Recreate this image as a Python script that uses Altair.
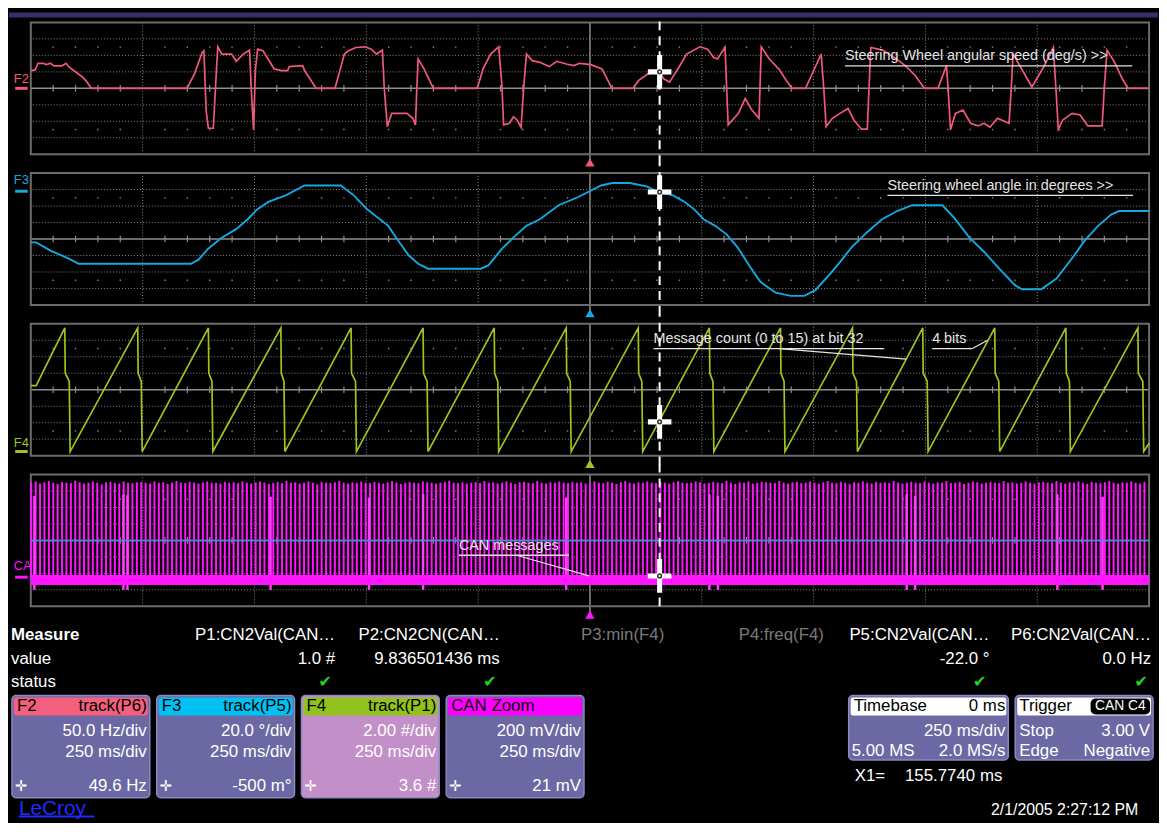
import altair as alt
import pandas as pd

# ---------------------------------------------------------------- data
# F2: steering wheel angular speed, (time ms, value in Hz-units, 50/div)
F2_POINTS = [
    (-1250, 54), (-1240, 56), (-1234, 76), (-1223, 76), (-1215, 72), (-1206, 76), (-1198, 68), (-1181, 68),
    (-1171, 76), (-1164, 64), (-1151, 51), (-1134, 34), (-1126, 22), (-1115, 0), (-901, 0), (-884, 44),
    (-867, 109), (-863, 114), (-858, -68), (-853, -121), (-842, -121), (-839, -46), (-835, 54), (-832, 126),
    (-823, 104), (-801, 104), (-791, 82), (-775, 104), (-761, 116), (-757, -6), (-752, -126), (-748, 54),
    (-743, 119), (-731, 114), (-706, 59), (-689, 54), (-676, 54), (-672, 66), (-642, 69), (-638, 54),
    (-612, 0), (-570, 0), (-562, 39), (-549, 104), (-540, 114), (-523, 124), (-502, 126), (-489, 119),
    (-477, 104), (-464, 116), (-460, 4), (-453, -116), (-443, -76), (-409, -76), (-396, -91), (-390, -111),
    (-387, 4), (-384, 89), (-371, 59), (-350, 0), (-252, 0), (-239, 59), (-222, 104), (-204, 126),
    (-197, 14), (-193, -111), (-180, -106), (-171, -86), (-163, -96), (-154, -118), (-148, 4), (-142, 104),
    (-129, 84), (-112, 79), (-91, 66), (-74, 82), (-53, 74), (-36, 69), (-23, 76), (2, 72),
    (27, 59), (49, 0), (96, 0), (109, 24), (130, 44), (152, 54), (165, 29), (178, 19),
    (199, 64), (216, 104), (246, 126), (263, 119), (276, 94), (285, 89), (302, 124), (309, -111),
    (332, -76), (347, -31), (362, -66), (378, -91), (383, 126), (401, 89), (422, 59), (439, 24),
    (452, 0), (482, 0), (495, 39), (517, 104), (523, -6), (528, -116), (542, -91), (559, -76),
    (577, -61), (590, -96), (607, -124), (620, -124), (624, 4), (628, 124), (654, 116), (680, 94),
    (705, 69), (727, 39), (748, 0), (778, 0), (793, 54), (797, 69), (801, -6), (806, -126),
    (817, -76), (834, -66), (851, -106), (868, -114), (881, -106), (894, -118), (911, -91), (937, -106),
    (942, 4), (946, 104), (963, 64), (988, 4), (1014, 64), (1036, 124), (1042, -6), (1047, -124),
    (1057, -96), (1078, -76), (1096, -81), (1113, -114), (1145, -114), (1150, 4), (1156, 116), (1173, 79),
    (1190, 29), (1203, 0), (1250, 0),
]

# F3: steering wheel angle, (time ms, degrees, 20/div)
F3_POINTS = [
    (-1250, -4), (-1238, -4), (-1206, -14), (-1164, -24), (-1143, -30), (-892, -30), (-875, -25), (-854, -12),
    (-825, 1), (-791, 12), (-765, 24), (-744, 36), (-719, 45), (-680, 53), (-638, 65), (-557, 65),
    (-528, 53), (-498, 36), (-451, 16), (-426, -4), (-405, -20), (-384, -30), (-362, -36), (-244, -36),
    (-227, -32), (-197, -12), (-171, 2), (-142, 16), (-112, 24), (-70, 41), (-26, 51), (25, 65),
    (50, 68), (89, 68), (127, 64), (152, 57), (186, 53), (212, 45), (233, 36), (254, 24),
    (280, 16), (305, 6), (330, -10), (356, -32), (381, -52), (415, -65), (449, -69), (479, -69),
    (504, -62), (534, -44), (559, -28), (585, -10), (619, 8), (653, 24), (687, 34), (720, 41),
    (788, 41), (814, 26), (848, 2), (882, -16), (915, -36), (950, -56), (966, -61), (1009, -61),
    (1043, -48), (1077, -24), (1106, -2), (1136, 16), (1166, 30), (1183, 34), (1250, 34),
]

# F4: message counter (0..15) decoded at bit 32 - start, wrap-around instants, end
F4_START = [(-1250, 8), (-1238, 8)]
F4_WRAP_TOP_MS = [-1174, -1011, -853, -691, -534, -373, -214, -53, 108, 267, 426, 587, 744, 905, 1064, 1225]
F4_WRAP_BOTTOM_MS = [-1162, -1001, -843, -682, -522, -362, -204, -42, 118, 277, 436, 598, 756, 916, 1074, 1238]
F4_END = [(1250, 1)]

# CAN zoom: message bursts (one per message, spacing = measured P2 value)
CAN_FIRST_MS = -1249
CAN_PERIOD_MS = 9.836501436
CAN_PEAK_MV = [
    700, 715, 690, 705, 720, 700, 685, 710, 700, 695, 725, 705, 690, 700, 715, 700, 680, 705, 710, 700, 690, 715, 700, 695, 705,
    710, 700, 690, 715, 700, 705, 685, 700, 720, 700, 695, 710, 700, 690, 705, 715, 700, 700, 690, 710, 700, 705, 695, 715, 700,
    690, 705, 715, 700, 685, 700, 710, 695, 720, 700, 705, 690, 700, 715, 700, 680, 710, 700, 695, 705, 720, 700, 690, 705, 700,
    715, 700, 695, 710, 700, 690, 705, 720, 700, 685, 700, 710, 700, 695, 715, 705, 700, 690, 700, 710, 725, 700, 695, 705, 690,
    700, 710, 695, 720, 700, 705, 690, 700, 715, 700, 685, 705, 710, 700, 695, 720, 700, 690, 705, 700, 715, 700, 695, 710, 700,
    705, 690, 700, 715, 700, 695, 710, 700, 685, 705, 720, 700, 690, 705, 700, 715, 700, 695, 710, 700, 690, 705, 720, 700, 695,
    700, 715, 705, 690, 700, 710, 700, 695, 720, 700, 685, 705, 700, 715, 690, 700, 710, 705, 700, 695, 720, 700, 690, 705, 710,
    695, 700, 715, 700, 690, 705, 720, 700, 695, 710, 700, 685, 705, 700, 715, 700, 690, 710, 700, 705, 695, 720, 700, 690, 700,
    710, 700, 695, 715, 700, 690, 705, 700, 720, 695, 700, 710, 685, 700, 715, 705, 690, 700, 710, 700, 695, 720, 700, 705, 690,
    700, 715, 700, 690, 705, 710, 700, 695, 720, 700, 690, 705, 700, 715, 700, 685, 710, 700, 695, 705, 720, 700, 690, 705, 700,
    715, 700, 690, 710,
]
CAN_LONG_MS = [-1242, -1043, -1034, -714, -494, -373, -53, 267, 286, 708, 727, 1045, 1146]
CAN_LONG_TOP_MV = [540, 560, 550, 530, 520, 560, 520, 560, 540, 560, 540, 560, 530]
CAN_BAND_MV = (-540, -420)
CAN_BASE_MV = -480

CURSOR_MS = 155.774
CURSOR_VALUES = [50, 57, 3.6, -431]

ANNOTATIONS = [
    # panel, text, t, v_text, v_underline, t_end
    (0, "Steering Wheel angular speed (deg/s) >>", 570, 98, 68, 1212),
    (1, "Steering wheel angle in degrees >>", 665, 64, 53, 1214),
    (2, "Message count (0 to 15) at bit 32", 142, 13.6, 12.5, 658),
    (2, "4 bits", 765, 13.6, 12.5, 855),
    (3, "CAN messages", -293, -72, -180, -47),
]
LEADERS = [
    (2, 423, 12.5, 707, 11.2),
    (2, 855, 12.5, 889, 13.5),
    (3, -164, -180, -2, -431),
]

MEAS_LABELS = ["P1:CN2Val(CAN…", "P2:CN2CN(CAN…", "P3:min(F4)", "P4:freq(F4)", "P5:CN2Val(CAN…", "P6:CN2Val(CAN…"]
MEAS_VALUES = ["1.0 #", "9.836501436 ms", "", "", "-22.0 °", "0.0 Hz"]
MEAS_ACTIVE = [True, True, False, False, True, True]

TRACE_NAMES = ["F2", "F3", "F4", "CAN Zoom"]
TRACE_SOURCE = ["track(P6)", "track(P5)", "track(P1)", ""]
TRACE_VDIV = ["50.0 Hz/div", "20.0 °/div", "2.00 #/div", "200 mV/div"]
TRACE_HDIV = ["250 ms/div", "250 ms/div", "250 ms/div", "250 ms/div"]
TRACE_CURSOR = ["49.6 Hz", "-500 m°", "3.6 #", "21 mV"]
TIMEBASE = ["Timebase", "0 ms", "250 ms/div", "5.00 MS", "2.0 MS/s"]
TRIGGER = ["Trigger", "CAN C4", "Stop", "3.00 V", "Edge", "Negative"]
X1_TEXT = ["X1=", "155.7740 ms"]
DATE_TEXT = "2/1/2005 2:27:12 PM"
BRAND = "LeCroy"

# ---------------------------------------------------------------- style
UI_FONT = "Liberation Sans"
SYM_FONT = "DejaVu Sans"
FRAME = "#6c6c6c"
GRID = "#8a8a8a"
CENTER = "#8e8e8e"
ANN = "#e4e4e4"
TRACE_COLORS = ["#f0587c", "#14a9df", "#9dc61e", "#ff14ff"]
HEADER_COLORS = ["#f2607e", "#00c2f2", "#92c21e", "#ff00ff"]
BODY = "#6c68a4"
BODY_F4 = "#c28fc8"
EDGE = "#8c88c0"
CHECK = "#22d622"
CAN_CENTER = "#3d8fe0"

W, H = 1128, 133
T0, T1 = -1250, 1250
GRID_T = [-1000, -750, -500, -250, 250, 500, 750, 1000]
CROSS = "M-0.7,-0.15H0.7V0.15H-0.7Z M-0.15,-1H0.15V1H-0.15Z"

DOMAINS = [(-200, 200), (-80, 80), (-0.5, 15.5), (-800, 800)]
LABELS = [("F2", 29, 0), ("F3", 72, 58), ("F4", 1.0, 0), ("CA", -313, -446)]
CURSOR_EXT = [(0.2, 0.6), (0.6, 0.6), (0.6, 0.6), (0.6, 0.0)]  # (top, bottom) in divisions


def enc(xs, ys, t="t", v="v", t2=None, v2=None):
    e = dict(x=alt.X(f"{t}:Q", scale=xs, axis=None), y=alt.Y(f"{v}:Q", scale=ys, axis=None))
    if t2:
        e["x2"] = alt.X2(f"{t2}:Q")
    if v2:
        e["y2"] = alt.Y2(f"{v2}:Q")
    return e


def seg(xs, ys, t0, v0, t1, v1, **mk):
    df = pd.DataFrame({"t": [t0], "v": [v0], "t1": [t1], "v1": [v1]})
    return alt.Chart(df).mark_rule(**mk).encode(**enc(xs, ys, t2="t1", v2="v1"))


def graticule(xs, ys, lo, hi, center_color):
    div = (hi - lo) / 8.0
    mid = (hi + lo) / 2.0
    minor_t = [t for t in range(-1200, 1250, 50) if t % 250 != 0]
    layers = []
    hdf = pd.DataFrame({"v": [mid + k * div for k in (-3, -2, -1, 1, 2, 3)]})
    layers.append(alt.Chart(hdf).mark_rule(color=GRID, strokeWidth=1, strokeDash=[1, 2])
                  .encode(y=alt.Y("v:Q", scale=ys, axis=None)))
    vdf = pd.DataFrame({"t": GRID_T})
    layers.append(alt.Chart(vdf).mark_rule(color=GRID, strokeWidth=1, strokeDash=[1, 2])
                  .encode(x=alt.X("t:Q", scale=xs, axis=None)))
    ddf = pd.DataFrame({"t": minor_t * 2,
                        "v": [mid + 2.5 * div] * len(minor_t) + [mid - 2.5 * div] * len(minor_t)})
    layers.append(alt.Chart(ddf).mark_square(size=2, color=GRID, opacity=1).encode(**enc(xs, ys)))
    layers.append(alt.Chart(pd.DataFrame({"v": [mid]})).mark_rule(color=center_color, strokeWidth=1.5)
                  .encode(y=alt.Y("v:Q", scale=ys, axis=None)))
    layers.append(seg(xs, ys, 0, lo - 0.45 * div, 0, hi, color=CENTER, strokeWidth=1.5))
    tdf = pd.DataFrame({"t": minor_t, "v": [mid - 0.2 * div] * len(minor_t), "v1": [mid + 0.2 * div] * len(minor_t)})
    layers.append(alt.Chart(tdf).mark_rule(color=CENTER, strokeWidth=1.2).encode(**enc(xs, ys, v2="v1")))
    fdf = pd.DataFrame({"t": [T0], "t1": [T1], "v": [lo], "v1": [hi]})
    layers.append(alt.Chart(fdf).mark_rect(fillOpacity=0, stroke=FRAME, strokeWidth=2)
                  .encode(**enc(xs, ys, t2="t1", v2="v1")))
    return layers


def trace_line(xs, ys, points, color, width=1.7):
    df = pd.DataFrame(points, columns=["t", "v"])
    df["i"] = range(len(df))
    return alt.Chart(df).mark_line(color=color, strokeWidth=width).encode(order="i:Q", **enc(xs, ys))


def build_panel(k, trace_layers):
    lo, hi = DOMAINS[k]
    div = (hi - lo) / 8.0
    color = TRACE_COLORS[k]
    xs = alt.Scale(domain=[T0, T1], nice=False, zero=False)
    ys = alt.Scale(domain=[lo, hi], nice=False, zero=False)
    layers = graticule(xs, ys, lo, hi, CENTER)
    layers += trace_layers(xs, ys)
    for (p, text, t, vt, vu, tend) in ANNOTATIONS:
        if p != k:
            continue
        adf = pd.DataFrame({"t": [t], "v": [vt], "s": [text]})
        layers.append(alt.Chart(adf).mark_text(align="left", baseline="middle", fontSize=14.5, color=ANN,
                                               font=UI_FONT).encode(text="s:N", **enc(xs, ys)))
        layers.append(seg(xs, ys, t, vu, tend, vu, color=ANN, strokeWidth=1.3))
    for (p, ta, va, tb, vb) in LEADERS:
        if p == k:
            layers.append(seg(xs, ys, ta, va, tb, vb, color=ANN, strokeWidth=1.3))
    top_ext, bot_ext = CURSOR_EXT[k]
    layers.append(seg(xs, ys, CURSOR_MS, lo - bot_ext * div, CURSOR_MS, hi + top_ext * div,
                      color="#ffffff", strokeWidth=2, strokeDash=[9, 6]))
    cdf = pd.DataFrame({"t": [CURSOR_MS], "v": [CURSOR_VALUES[k]]})
    layers.append(alt.Chart(cdf).mark_point(shape=CROSS, filled=True, color="#ffffff", size=1156, opacity=1)
                  .encode(**enc(xs, ys)))
    layers.append(alt.Chart(cdf).mark_point(shape="circle", filled=False, color="#303030", size=14,
                                            strokeWidth=1.5, opacity=1).encode(**enc(xs, ys)))
    tri = pd.DataFrame({"t": [0], "v": [lo - 0.5 * div]})
    layers.append(alt.Chart(tri).mark_point(shape="triangle-up", filled=True, color=color, size=90, opacity=1)
                  .encode(**enc(xs, ys)))
    name, lv, mv = LABELS[k]
    ldf = pd.DataFrame({"t": [-1288], "v": [lv], "s": [name]})
    layers.append(alt.Chart(ldf).mark_text(align="left", baseline="middle", fontSize=13, color=color,
                                           font=UI_FONT).encode(text="s:N", **enc(xs, ys)))
    layers.append(seg(xs, ys, -1285, mv, -1257, mv, color=color, strokeWidth=3))
    if k == 0:
        bar = pd.DataFrame({"k": [0]})
        layers.insert(0, alt.Chart(bar).mark_rect(color="#3b2c6c").encode(
            x=alt.value(-22), x2=alt.value(1137), y=alt.value(-10), y2=alt.value(-5)))
    return alt.layer(*layers).properties(width=W, height=H)


def f2_layers(xs, ys):
    return [trace_line(xs, ys, F2_POINTS, TRACE_COLORS[0])]


def f3_layers(xs, ys):
    return [trace_line(xs, ys, F3_POINTS, TRACE_COLORS[1], 1.9)]


def f4_layers(xs, ys):
    pts = list(F4_START)
    for top, bottom in zip(F4_WRAP_TOP_MS, F4_WRAP_BOTTOM_MS):
        pts += [(top, 15), (top + 1, 9.5), (bottom - 2, 8.5), (bottom - 1, 4), (bottom, 0)]
    pts += F4_END
    return [trace_line(xs, ys, pts, TRACE_COLORS[2])]


def can_layers(xs, ys):
    n = len(CAN_PEAK_MV)
    sdf = pd.DataFrame({"t": [CAN_FIRST_MS + i * CAN_PERIOD_MS for i in range(n)],
                        "v": [CAN_BASE_MV] * n, "v1": CAN_PEAK_MV})
    spikes = alt.Chart(sdf).mark_rule(color=TRACE_COLORS[3], strokeWidth=2).encode(**enc(xs, ys, v2="v1"))
    ldf = pd.DataFrame({"t": CAN_LONG_MS, "v": [-600] * len(CAN_LONG_MS), "v1": CAN_LONG_TOP_MV})
    longs = alt.Chart(ldf).mark_rule(color="#ff3cff", strokeWidth=2.5).encode(**enc(xs, ys, v2="v1"))
    bdf = pd.DataFrame({"t": [T0], "t1": [T1], "v": [CAN_BAND_MV[0]], "v1": [CAN_BAND_MV[1]]})
    band = alt.Chart(bdf).mark_rect(color=TRACE_COLORS[3], opacity=1).encode(**enc(xs, ys, t2="t1", v2="v1"))
    center = alt.Chart(pd.DataFrame({"v": [0]})).mark_rule(color=CAN_CENTER, strokeWidth=1.5).encode(
        y=alt.Y("v:Q", scale=ys, axis=None))
    return [spikes, longs, band, center]


panels = [build_panel(0, f2_layers), build_panel(1, f3_layers), build_panel(2, f4_layers),
          build_panel(3, can_layers)]

# ---------------------------------------------------------------- info area
dummy = pd.DataFrame({"k": [0]})


def T(s, x, y, size=17, color="#ffffff", align="left", weight="normal", baseline="middle", font=UI_FONT):
    return alt.Chart(dummy).mark_text(text=s, align=align, baseline=baseline, fontSize=size, color=color,
                                      fontWeight=weight, font=font).encode(x=alt.value(x), y=alt.value(y))


def R(x0, x1, y0, y1, fill, stroke=None, radius=0):
    kw = dict(fill=fill, cornerRadius=radius, opacity=1)
    if stroke:
        kw.update(stroke=stroke, strokeWidth=1.5)
    return alt.Chart(dummy).mark_rect(**kw).encode(x=alt.value(x0), x2=alt.value(x1), y=alt.value(y0),
                                                   y2=alt.value(y1))


COL_RIGHT = [307, 473, 639, 800, 967, 1130]
BOX_LEFT = [-19, 127, 273, 419]
BOX_W = 139
BOX_TOP, BOX_BOTTOM = 71, 174

info = [T("Measure", -20, 10, weight="bold"), T("value", -20, 34), T("status", -20, 57)]
for i, lab in enumerate(MEAS_LABELS):
    info.append(T(lab, COL_RIGHT[i], 10, color="#ffffff" if MEAS_ACTIVE[i] else "#7a7a7a", align="right"))
    if MEAS_VALUES[i]:
        info.append(T(MEAS_VALUES[i], COL_RIGHT[i], 34, align="right"))
    if MEAS_ACTIVE[i]:
        info.append(T("✔", COL_RIGHT[i] - 10, 57, size=16, color=CHECK, align="center", font=SYM_FONT))

for i, left in enumerate(BOX_LEFT):
    right = left + BOX_W
    info.append(R(left, right, BOX_TOP, BOX_BOTTOM, BODY_F4 if i == 2 else BODY, stroke=EDGE, radius=4))
    info.append(R(left + 2, right - 2, BOX_TOP + 2, BOX_TOP + 20, HEADER_COLORS[i], radius=2))
    info.append(T(TRACE_NAMES[i], left + 5, 82, color="#000000"))
    if TRACE_SOURCE[i]:
        info.append(T(TRACE_SOURCE[i], right - 3, 82, color="#000000", align="right"))
    info.append(T(TRACE_VDIV[i], right - 3, 107, align="right"))
    info.append(T(TRACE_HDIV[i], right - 3, 128, align="right"))
    info.append(T("✛", left + 9, 162, size=15, align="center", font=SYM_FONT))
    info.append(T(TRACE_CURSOR[i], right - 3, 162, align="right"))

# timebase
info.append(R(825, 986, 71, 136, BODY, stroke=EDGE, radius=4))
info.append(R(827, 984, 73, 91, "#ffffff", radius=2))
info.append(T(TIMEBASE[0], 830, 82, color="#000000"))
info.append(T(TIMEBASE[1], 983, 82, color="#000000", align="right"))
info.append(T(TIMEBASE[2], 983, 107, align="right"))
info.append(T(TIMEBASE[3], 828, 127))
info.append(T(TIMEBASE[4], 983, 127, align="right"))
# trigger
info.append(R(993, 1132, 71, 136, BODY, stroke=EDGE, radius=4))
info.append(R(995, 1130, 73, 91, "#ffffff", radius=2))
info.append(R(1069, 1129, 74, 90, "#000000", radius=5))
info.append(T(TRIGGER[0], 997, 82, color="#000000"))
info.append(T(TRIGGER[1], 1099, 82, size=14, align="center"))
info.append(T(TRIGGER[2], 997, 107))
info.append(T(TRIGGER[3], 1129, 107, align="right"))
info.append(T(TRIGGER[4], 997, 127))
info.append(T(TRIGGER[5], 1129, 127, align="right"))
# cursor readout, brand, date
info.append(T(X1_TEXT[0], 831, 152))
info.append(T(X1_TEXT[1], 980, 152, align="right"))
info.append(T(BRAND, -12, 191, size=21, color="#1f2bff", baseline="alphabetic"))
info.append(R(-12, 64, 192, 194, "#1f2bff"))
info.append(T(DATE_TEXT, 1117, 191, size=16, align="right", baseline="alphabetic"))

info_chart = alt.layer(*info).properties(width=W, height=168)

chart = (
    alt.vconcat(*panels, info_chart, spacing=19, bounds="flush")
    .resolve_scale(x="independent", y="independent")
    .properties(background="#000000", padding=0)
    .configure_view(stroke="transparent")
)

chart.save("out.html", embed_options={"renderer": "svg", "actions": False})
